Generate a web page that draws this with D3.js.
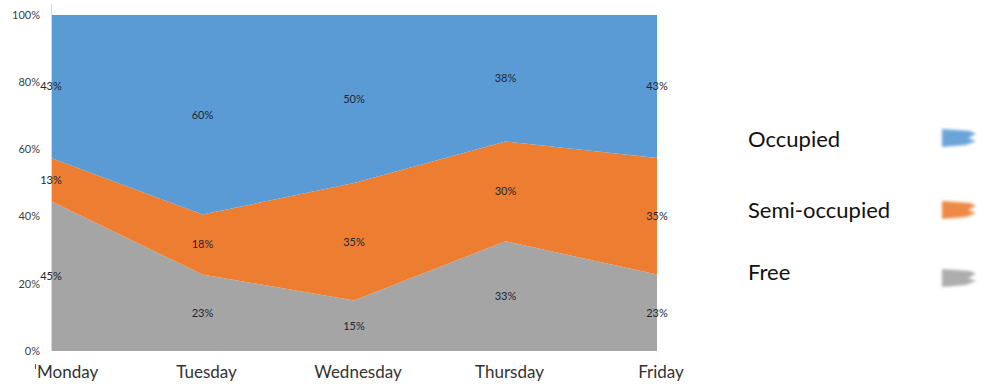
<!DOCTYPE html>
<html><head><meta charset="utf-8">
<script src="https://cdn.jsdelivr.net/npm/d3@7"></script>
<style>body{margin:0;background:#fff}svg{display:block}</style>
</head><body>
<svg id="c" width="992" height="387"></svg>
<script>
const days = ["Monday","Tuesday","Wednesday","Thursday","Friday"];
const free = [45,23,15,33,23];
const semi = [13,18,35,30,35];
const occupied = [43,60,50,38,43];
const seriesNames = ["Free","Semi-occupied","Occupied"];
const colors = ["#A5A5A5","#ED7D31","#5B9BD5"];
const yTicks = [0,0.2,0.4,0.6,0.8,1];

const svg = d3.select("#c");
const L=51,R=657,T=15,B=351;
const x = d3.scalePoint().domain(days).range([L,R]);
const y = d3.scaleLinear().domain([0,1]).range([B,T]);

const table = days.map((d,i)=>({day:d,Free:free[i],"Semi-occupied":semi[i],Occupied:occupied[i]}));
const stack = d3.stack().keys(seriesNames).offset(d3.stackOffsetExpand);
const layers = stack(table);

const area = d3.area().x(d=>x(d.data.day)).y0(d=>y(d[0])).y1(d=>y(d[1]));
svg.append("g").selectAll("path").data(layers).join("path")
  .attr("d",area).attr("fill",(d,i)=>colors[i]);

// axis line
svg.append("line").attr("x1",L+0.5).attr("x2",L+0.5).attr("y1",4).attr("y2",B).attr("stroke","#d9d9d9");

// y tick labels
svg.append("g").selectAll("text").data(yTicks).join("text")
  .attr("x",40).attr("y",d=>y(d)).attr("dy","0.35em").attr("text-anchor","end")
  .attr("font-family","Lato, 'Open Sans', sans-serif").attr("font-size",11).attr("fill","#404040")
  .text(d=>d3.format(".0%")(d));

// data labels
layers.forEach((layer,li)=>{
  const raw = [free,semi,occupied][li];
  svg.append("g").selectAll("text").data(layer).join("text")
    .attr("x",d=>x(d.data.day)).attr("y",d=>y((d[0]+d[1])/2)).attr("dy","0.35em")
    .attr("text-anchor","middle").attr("font-family","Lato, 'Open Sans', sans-serif")
    .attr("font-size",11).attr("fill","#1e2633")
    .text((d,i)=>raw[i]+"%");
});

// x labels
svg.append("g").selectAll("text").data(days).join("text")
  .attr("x",(d,i)=> i===0 ? x(d)-14 : x(d)+4)
  .attr("y",378).attr("text-anchor",(d,i)=>i===0?"start":"middle")
  .attr("font-family","Lato, 'Open Sans', sans-serif").attr("font-size",17).attr("fill","#333")
  .text(d=>d);
svg.append("line").attr("x1",35.5).attr("x2",35.5).attr("y1",364).attr("y2",369).attr("stroke","#555");

// legend
const defs = svg.append("defs");
defs.append("filter").attr("id","blur").append("feGaussianBlur").attr("stdDeviation",1.6);
const legendItems = [
  {name:"Occupied", c:colors[2], ty:147, sy:138},
  {name:"Semi-occupied", c:colors[1], ty:218, sy:210},
  {name:"Free", c:colors[0], ty:280, sy:278}
];
const lg = svg.append("g");
legendItems.forEach(it=>{
  lg.append("text").attr("x",748).attr("y",it.ty).attr("font-family","Lato, 'Open Sans', sans-serif")
    .attr("font-size",22).attr("fill","#111").text(it.name);
  const s = it.sy;
  lg.append("path").attr("d",`M942,${s-9} L970,${s-7} L976,${s-4} L968,${s} L976,${s+3} L966,${s+7} L942,${s+9} Z`)
    .attr("fill",it.c).attr("filter","url(#blur)").attr("opacity",0.9);
});
</script>
</body></html>
